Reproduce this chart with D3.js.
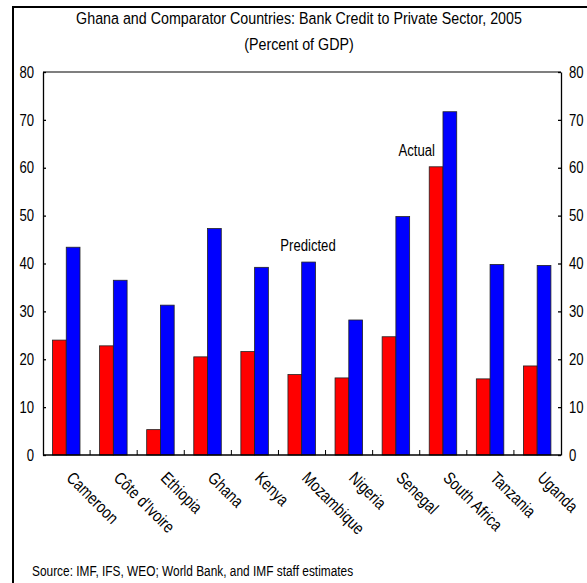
<!DOCTYPE html>
<html>
<head>
<meta charset="utf-8">
<script src="https://cdn.jsdelivr.net/npm/d3@7"></script>
<style>
  html, body { margin: 0; padding: 0; background: #fff; }
  svg { display: block; }
  text { font-family: "Liberation Sans", Arial, sans-serif; fill: #000; }
</style>
</head>
<body>
<svg id="chart" width="587" height="583"></svg>
<script>
// Bank credit to the private sector, percent of GDP, 2005
const countries = ["Cameroon", "Côte d'Ivoire", "Ethiopia", "Ghana", "Kenya", "Mozambique",
                   "Nigeria", "Senegal", "South Africa", "Tanzania", "Uganda"];
const seriesNames = ["Actual", "Predicted"];
const actual    = [24.0, 22.8, 5.3, 20.5, 21.6, 16.8, 16.1, 24.7, 60.2, 15.9, 18.6];
const predicted = [43.4, 36.5, 31.3, 47.3, 39.2, 40.3, 28.2, 49.8, 71.7, 39.8, 39.6];
const yTicks = [0, 10, 20, 30, 40, 50, 60, 70, 80];
const titleLines = ["Ghana and Comparator Countries: Bank Credit to Private Sector, 2005", "(Percent of GDP)"];
const sourceNote = "Source: IMF, IFS, WEO; World Bank, and IMF staff estimates";

const colors = { Actual: "#ff0000", Predicted: "#0000ff" };

const svg = d3.select("#chart");
const plot = { left: 43, right: 561, top: 72, bottom: 455 };

// Moves a text's x/y into a transform and squeezes it horizontally
// to get a condensed sans look.
function narrow(sel, extra = "", squeeze = 0.82) {
  sel.each(function () {
    const t = d3.select(this);
    const x = +t.attr("x") || 0, yy = +t.attr("y") || 0;
    t.attr("x", 0).attr("y", 0)
      .attr("transform", `translate(${x},${yy}) ${extra} scale(${squeeze},1)`);
  });
}

// outer frame
svg.append("rect")
  .attr("x", 13).attr("y", 7).attr("width", 640).attr("height", 640)
  .attr("fill", "none").attr("stroke", "#000").attr("stroke-width", 2);

// title
svg.append("g").selectAll("text").data(titleLines).join("text")
  .attr("x", 299).attr("y", (d, i) => 24 + i * 26)
  .attr("text-anchor", "middle")
  .style("font-size", "17px")
  .text(d => d)
  .call(narrow, "", 0.84);

const y = d3.scaleLinear().domain([0, 80]).range([plot.bottom, plot.top]);
const x0 = d3.scaleBand().domain(countries).range([plot.left, plot.right]).padding(0);
const x1 = d3.scaleBand().domain(seriesNames).range([9.5, 37]).padding(0);

const rows = countries.map((c, i) => ({ country: c, Actual: actual[i], Predicted: predicted[i] }));

// bars
const groups = svg.append("g").selectAll("g").data(rows).join("g")
  .attr("transform", d => `translate(${x0(d.country)},0)`);
groups.selectAll("rect")
  .data(d => seriesNames.map(s => ({ key: s, value: d[s] })))
  .join("rect")
  .attr("x", d => x1(d.key))
  .attr("y", d => y(d.value))
  .attr("width", x1.bandwidth())
  .attr("height", d => y(0) - y(d.value))
  .attr("fill", d => colors[d.key])
  .attr("stroke", "#222")
  .attr("stroke-width", 0.8);

// top border of the plot area
svg.append("line")
  .attr("x1", plot.left).attr("x2", plot.right)
  .attr("y1", plot.top).attr("y2", plot.top)
  .attr("stroke", "#000").attr("stroke-width", 1.2);

// y axes, ticks pointing inward
const axisLeft = d3.axisLeft(y).tickValues(yTicks).tickSizeInner(-3).tickSizeOuter(0).tickPadding(9);
const axisRight = d3.axisRight(y).tickValues(yTicks).tickSizeInner(-3).tickSizeOuter(0).tickPadding(8);

[[axisLeft, plot.left], [axisRight, plot.right]].forEach(([ax, xp]) => {
  const g = svg.append("g").attr("transform", `translate(${xp},0)`).call(ax);
  g.selectAll("path, line").attr("stroke", "#000").attr("stroke-width", 1.3);
  g.selectAll("text").style("font-size", "16px").attr("font-family", null).call(narrow);
});

// x axis baseline with inward ticks between country groups
const xg = svg.append("g");
xg.append("line")
  .attr("x1", plot.left).attr("x2", plot.right)
  .attr("y1", y(0)).attr("y2", y(0))
  .attr("stroke", "#000").attr("stroke-width", 1.6);
xg.selectAll("line.tick").data(countries.slice(1)).join("line")
  .attr("class", "tick")
  .attr("x1", d => x0(d)).attr("x2", d => x0(d))
  .attr("y1", y(0)).attr("y2", y(0) - 5)
  .attr("stroke", "#000").attr("stroke-width", 1);

// rotated category labels
xg.selectAll("text").data(countries).join("text")
  .attr("x", d => x0(d) + x0.bandwidth() / 2 - 1)
  .attr("y", y(0) + 24)
  .attr("text-anchor", "start")
  .style("font-size", "17px")
  .text(d => d)
  .call(narrow, "rotate(45)");

// series annotations
svg.append("text")
  .attr("x", x0("Mozambique") + x0.bandwidth() / 2 + 6)
  .attr("y", y(42.6))
  .attr("text-anchor", "middle")
  .style("font-size", "16px")
  .text(seriesNames[1])
  .call(narrow);
svg.append("text")
  .attr("x", x0("South Africa") - 3)
  .attr("y", y(62.4))
  .attr("text-anchor", "middle")
  .style("font-size", "16px")
  .text(seriesNames[0])
  .call(narrow);

// source note
svg.append("text")
  .attr("x", 32).attr("y", 576)
  .style("font-size", "14.5px")
  .text(sourceNote)
  .call(narrow);
</script>
</body>
</html>
